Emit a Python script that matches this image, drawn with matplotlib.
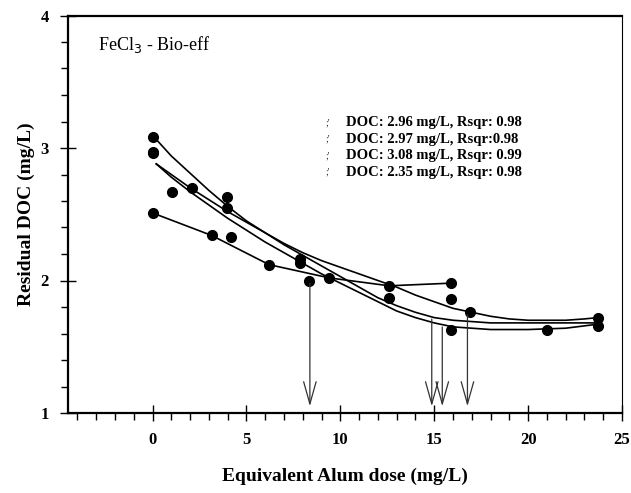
import numpy as np
import matplotlib
matplotlib.use("Agg")
import matplotlib.pyplot as plt
from matplotlib.ticker import MultipleLocator

plt.rcParams['font.family'] = ['Liberation Serif', 'DejaVu Serif']

# measured points (equivalent alum dose, residual DOC)
dose_a = [0.0, 3.15, 6.2, 9.4, 12.6, 15.9]
doc_a = [2.51, 2.34, 2.12, 2.02, 1.96, 1.98]
dose_b = [0.0, 3.94, 7.85, 12.6, 15.9, 23.7]
doc_b = [3.08, 2.55, 2.16, 1.87, 1.86, 1.72]
dose_c = [0.0, 3.94, 7.85, 15.9, 23.7]
doc_c = [2.96, 2.63, 2.13, 1.63, 1.66]
dose_d = [0.0, 1.05, 2.1, 4.2, 8.35, 16.9, 21.0]
doc_d = [2.97, 2.67, 2.70, 2.33, 2.00, 1.76, 1.63]

# fitted curves
fit1_x = [0.1, 1, 2, 3, 4, 5, 6, 7, 8, 9, 10, 11, 12, 13, 14, 15, 16, 17, 18,
          19, 20, 21, 22, 23, 23.7]
fit1_y = [3.08, 2.94, 2.81, 2.68, 2.56, 2.45, 2.36, 2.28, 2.21, 2.15, 2.10, 2.05,
          2.00, 1.95, 1.89, 1.84, 1.79, 1.76, 1.73, 1.71, 1.70, 1.70, 1.70, 1.71, 1.72]
fit2_x = [0.2, 1, 2, 3, 4, 5, 6, 7, 8, 9, 10, 11, 12, 13, 14, 15, 16, 17, 18,
          20, 22, 23.7]
fit2_y = [2.88, 2.80, 2.70, 2.61, 2.52, 2.44, 2.36, 2.27, 2.19, 2.11, 2.03, 1.95,
          1.87, 1.81, 1.76, 1.72, 1.70, 1.69, 1.68, 1.68, 1.68, 1.68]
fit3_x = [0.2, 1, 2, 3, 4, 5, 6, 7, 8, 9, 10, 11, 12, 13, 14, 15, 16, 17, 18,
          20, 22, 23.7]
fit3_y = [2.88, 2.78, 2.67, 2.57, 2.47, 2.38, 2.29, 2.21, 2.13, 2.05, 1.98, 1.91,
          1.84, 1.77, 1.72, 1.68, 1.65, 1.64, 1.63, 1.63, 1.64, 1.67]
fit4_x = dose_a
fit4_y = doc_a

# optimum dose arrows
arrow_x = [8.38, 14.87, 15.43, 16.77]
arrow_top = [2.00, 1.73, 1.67, 1.76]

legend_labels = ['DOC: 2.96 mg/L, Rsqr: 0.98',
                 'DOC: 2.97 mg/L, Rsqr:0.98',
                 'DOC: 3.08 mg/L, Rsqr: 0.99',
                 'DOC: 2.35 mg/L, Rsqr: 0.98']

fig = plt.figure(figsize=(6.31, 4.93), dpi=100)
ax = fig.add_axes([68 / 631, 1 - 413 / 493, (622 - 68) / 631, (413 - 15.5) / 493])

for fx, fy in [(fit1_x, fit1_y), (fit2_x, fit2_y), (fit3_x, fit3_y), (fit4_x, fit4_y)]:
    ax.plot(fx, fy, color='black', lw=1.2, zorder=2)

for dx, dy in [(dose_a, doc_a), (dose_b, doc_b), (dose_c, doc_c), (dose_d, doc_d)]:
    ax.plot(dx, dy, 'o', color='black', ms=7, zorder=3)

for xa, ya in zip(arrow_x, arrow_top):
    ax.annotate('', xy=(xa, 1.03), xytext=(xa, ya),
                arrowprops=dict(arrowstyle='->,head_length=1.6,head_width=0.45',
                                color='#333333', lw=0.9))

ax.text(-2.9, 3.74, 'FeCl$_3$ - Bio-eff', fontsize=13)

for i, lab in enumerate(legend_labels):
    yy = 3.19 - i * 0.125
    ax.text(9.2, yy, ";'", fontsize=7, va='center', color='#333333')
    ax.text(10.3, yy, lab, fontsize=10.5, fontweight='bold', va='center')

ax.set_xlim(-4.5, 25)
ax.set_ylim(1, 4)
ax.xaxis.set_major_locator(MultipleLocator(5))
ax.xaxis.set_minor_locator(MultipleLocator(1))
ax.yaxis.set_major_locator(MultipleLocator(1))
ax.yaxis.set_minor_locator(MultipleLocator(0.2))
ax.tick_params(which='major', direction='inout', length=12, width=1.0,
               labelsize=12, pad=8)
ax.tick_params(which='minor', direction='out', length=5, width=1.0)
for lab in ax.get_xticklabels() + ax.get_yticklabels():
    lab.set_fontweight('bold')

ax.spines['left'].set_linewidth(1.6)
ax.spines['bottom'].set_linewidth(1.6)
ax.spines['top'].set_linewidth(1.6)
ax.spines['right'].set_linewidth(0.8)

ax.set_xlabel('Equivalent Alum dose (mg/L)', fontsize=14, fontweight='bold', labelpad=14)
ax.set_ylabel('Residual DOC (mg/L)', fontsize=14, fontweight='bold', labelpad=4)

fig.savefig('out.png', dpi=100)
